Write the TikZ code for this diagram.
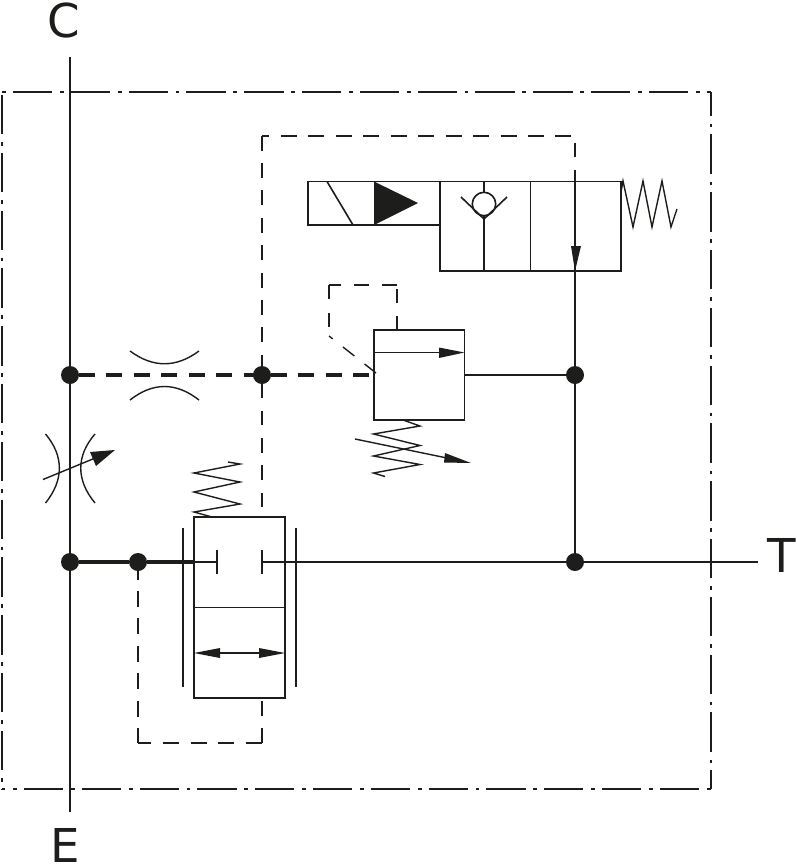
\documentclass[tikz,border=0pt]{standalone}
\usepackage{fontspec}
\setmainfont{DejaVu Sans}
\usetikzlibrary{calc}
\definecolor{ink}{HTML}{1D1D1B}
\tikzset{
  x=0.75pt,y=-0.75pt,
  ln/.style={draw=ink,line width=1.2pt,line join=miter},
  fineln/.style={draw=ink,line width=1.05pt},
  heavyln/.style={draw=ink,line width=2.45pt},
  dashln/.style={draw=ink,line width=1.6pt,dash pattern=on 10.8pt off 9.6pt},
  pilot/.style={draw=ink,line width=1.05pt,dash pattern=on 11pt off 10pt},
  framed/.style={draw=ink,line width=1.05pt,dash pattern=on 29.5pt off 5.8pt on 2.8pt off 5.25pt},
  junction/.style={circle,fill=ink,inner sep=0pt,minimum size=13.5pt},
  lbl/.style={font=\fontsize{35pt}{35pt}\selectfont,text=ink,inner sep=0pt,anchor=base},
  blockbox/.style={ln,fill=none},
  head/.style={fill=ink,draw=none},
}
\begin{document}
\begin{tikzpicture}
\useasboundingbox (0,0) rectangle (797,865);
% frame
\coordinate (FA) at (2,92); \coordinate (FB) at (711,92);
\coordinate (FC) at (711,789); \coordinate (FD) at (2,789);
\draw[framed,dash phase=35.1pt] (FA) -- (FB);
\draw[framed,dash phase=26.9pt] (FD) -- (FC);
\draw[framed,dash phase=41.1pt] (FA) -- (FD);
\draw[framed,dash phase=11.5pt] (FB) -- (FC);
% junctions and ends
\coordinate (Ctop) at (70,57); \coordinate (Ebot) at (70,812); \coordinate (Tend) at (758,562);
\node[junction] (J1) at (70,375) {};
\node[junction] (J2) at (262,375) {};
\node[junction] (J3) at (575,375) {};
\node[junction] (J4) at (70,562) {};
\node[junction] (J5) at (138,562) {};
\node[junction] (J6) at (575,562) {};
\coordinate (reliefL) at (374,375);
\coordinate (reliefR) at (464,375);
\coordinate (mainTop) at (262,517);
\coordinate (mainBot) at (262,698);
\coordinate (mainL) at (217,562);
\coordinate (mainR) at (262,562);
\coordinate (valveTop) at (575,181.5);
\coordinate (cornerA) at (262,136);
\coordinate (cornerB) at (575,136);
\coordinate (cornerC) at (138,743);
\coordinate (cornerD) at (262,743);
\coordinate (pilotA) at (397,330);
\coordinate (pilotB) at (397,285);
\coordinate (pilotC) at (329,285);
\coordinate (pilotD) at (329,336);
\coordinate (pilotE) at (376,373);
% labels
\node[lbl] (C) at (63.5,37.5) {C};
\node[lbl] (E) at (65.7,862.5) {E};
\node[lbl] (T) at (781.5,572) {T};
% main lines
\draw[ln] (Ctop) -- (J1) -- (J4) -- (Ebot);
\draw[ln] (valveTop) -- (J3) -- (J6);
\draw[ln] (J6) -- (Tend);
\draw[ln] (mainR) -- (J6);
\draw[ln] (reliefR) -- (J3);
\draw[heavyln] (J4) -- (J5);
\draw[heavyln] (J5) -- (194,562);
\draw[ln] (194,562) -- (mainL);
% dashed
\draw[heavyln,dash pattern=on 12pt off 8.6pt,dash phase=0.4pt] (J1) -- (reliefL);
\draw[dashln,dash phase=12.9pt] (mainTop) -- (J2);
\draw[dashln,dash pattern=on 11.2pt off 9.35pt,dash phase=3pt] (J2) -- (cornerA);
\draw[dashln,dash pattern=on 12pt off 8.6pt,dash phase=6.5pt] (cornerA) -- (cornerB);
\draw[dashln,dash pattern=on 10.5pt off 9.75pt,dash phase=15.2pt] (cornerB) -- (valveTop);
\draw[dashln,dash pattern=on 12pt off 8.55pt,dash phase=5.8pt] (J5) -- (cornerC);
\draw[dashln,dash pattern=on 12pt off 8.7pt,dash phase=2pt] (cornerC) -- (cornerD);
\draw[dashln,dash pattern=on 11.2pt off 9.3pt] (cornerD) -- (mainBot);
\draw[pilot,dash pattern=on 10.5pt off 9.75pt] (pilotA) -- (pilotB);
\draw[pilot,dash pattern=on 11.25pt off 9.75pt] (pilotB) -- (pilotC);
\draw[pilot,dash pattern=on 10.5pt off 10.5pt] (pilotC) -- (pilotD);
\draw[pilot,dash pattern=on 10.9pt off 9.75pt] (pilotE) -- (pilotD);
% solenoid valve
\draw[blockbox] (440,225) -- (308,225) -- (308,181.5) -- (621,181.5) -- (621,271) -- (440,271) -- cycle;
\draw[ln] (440,181.5) -- (440,225);
\draw[ln] (530.5,181.5) -- (530.5,271);
\draw[ln] (327,181.5) -- (353,225);
\fill[ink] (374,181.5) -- (418,203) -- (374,225) -- cycle;
\draw[ln] (484,181.5) -- (484,192);
\draw[ln] (484,216) -- (484,271);
\draw[ln] (484,204) circle[radius=11.7];
\draw[ln] (461,197) -- (484,219) -- (507,197);
\draw[head] (575,271) -- (571,246) -- (581,246) -- cycle;
\draw[fineln] (621,192) -- (623,181) -- (633,227) -- (643,181) -- (652,227) -- (662,181) -- (671,227) -- (677,209);
% relief valve
\draw[blockbox] (374,330) rectangle (464.5,420);
\draw[ln] (374,352.5) -- (440,352.5);
\draw[head] (464.5,352.5) -- (439,347.5) -- (439,358) -- cycle;
\draw[fineln] (403,420) -- (420,426) -- (373.5,434) -- (420,445.5) -- (373.5,456) -- (420,464.5) -- (373.5,473) -- (385,476.5);
\draw[fineln] (355,439) -- (447,458);
\draw[head] (471,463) -- (445,453) -- (444,462.5) -- cycle;
% orifices
\draw[fineln] (130,351) .. controls (153,368) and (176,368) .. (199,351);
\draw[fineln] (130,400) .. controls (153,382) and (176,382) .. (199,400);
\draw[fineln] (45.5,434) .. controls (64,456) and (64,480) .. (45.5,503);
\draw[fineln] (95,434) .. controls (76,456) and (76,480) .. (95,503);
\draw[fineln] (43,479.5) -- (94,458.5);
\draw[head] (115,450) -- (90,452) -- (96,466) -- cycle;
% main spool
\draw[blockbox] (194,517) rectangle (285,698);
\draw[ln] (194,607.5) -- (285,607.5);
\draw[ln] (183,528) -- (183,687);
\draw[ln] (296,528) -- (296,687);
\draw[ln] (mainL) ++(0,-12) -- ++(0,24);
\draw[ln] (mainR) ++(0,-12) -- ++(0,24);
\draw[ln] (218,653) -- (262,653);
\draw[head] (194,653) -- (220,648) -- (220,658) -- cycle;
\draw[head] (285,653) -- (259,648) -- (259,658) -- cycle;
\draw[fineln] (228,462) -- (240,464) -- (194,473) -- (240,482) -- (194,492) -- (240,504) -- (194,512) -- (212,517);
\end{tikzpicture}
\end{document}
